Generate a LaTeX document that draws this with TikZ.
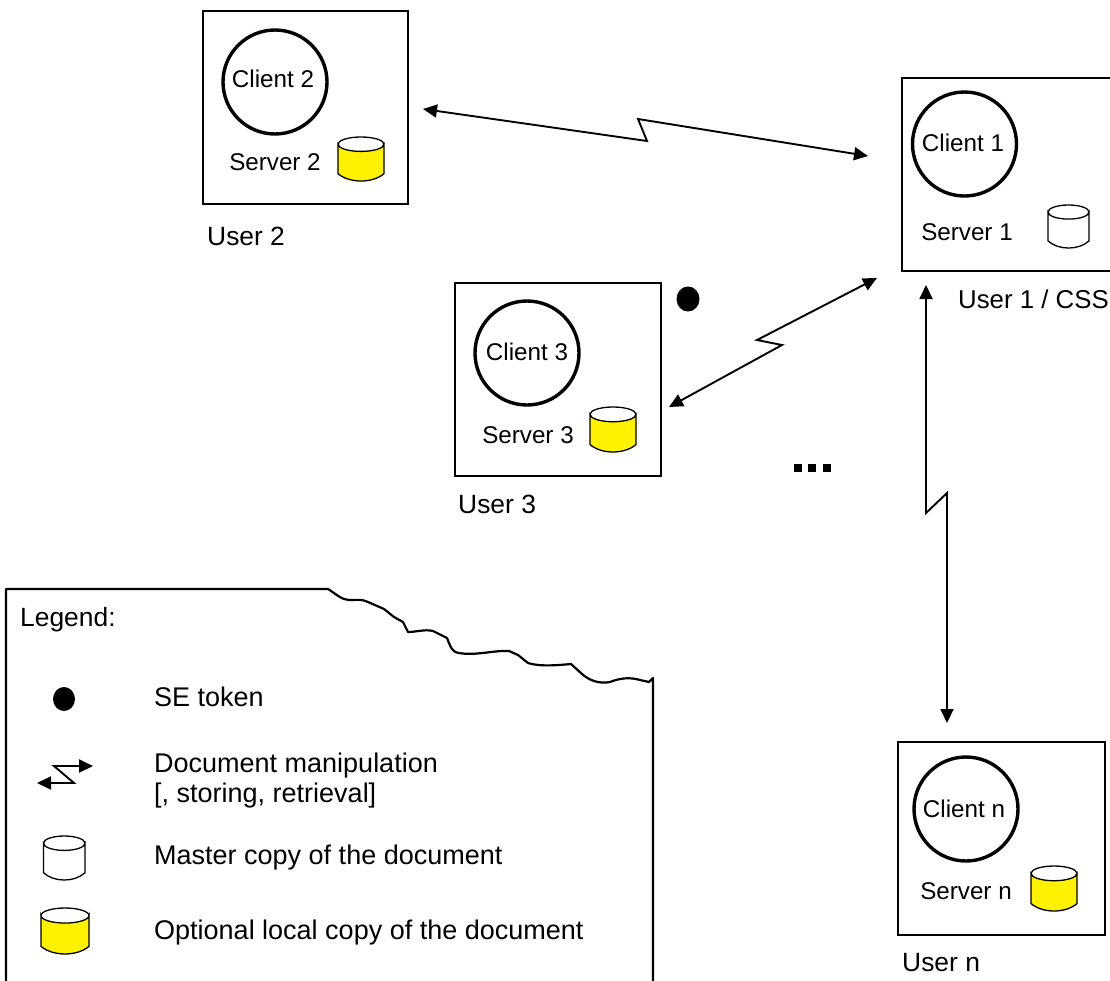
\documentclass[tikz,border=0pt]{standalone}
\usepackage{fontspec}
\setmainfont{Liberation Sans}
\usetikzlibrary{arrows.meta}
\tikzset{
  userbox/.style={draw=black,line width=2.4pt,rectangle,anchor=north west,inner sep=0pt,outer sep=0pt},
  clientc/.style={draw=black,line width=3.4pt,circle,inner sep=0pt,outer sep=0pt,minimum size=104pt},
  lbl/.style={inner sep=0pt,font=\fontsize{24.2pt}{30pt}\selectfont},
  userlbl/.style={inner sep=0pt,anchor=west,font=\fontsize{26.4pt}{30pt}\selectfont},
  leftlbl/.style={inner sep=0pt,anchor=base west,font=\fontsize{27pt}{30pt}\selectfont},
  link/.style={line width=1.9pt,line join=miter,{Triangle[length=14pt,width=13pt]}-{Triangle[length=14pt,width=13pt]}},
  cyledge/.style={draw=black,line width=1.3pt},
  dotsq/.style={fill=black,minimum size=8pt,inner sep=0pt,outer sep=0pt,rectangle,anchor=north west},
}
\newcommand{\mycyl}[5]{% x1 y1 x2 y2 fill
  \pgfmathsetmacro{\crx}{(#3-#1)/2}
  \pgfmathsetmacro{\cry}{(#4-#2)*0.16}
  \path[cyledge,fill=#5] (#1,#2+\cry) arc[start angle=180,end angle=0,x radius=\crx,y radius=\cry]
    -- (#3,#4-\cry*1.15) .. controls (#3-\crx*0.5,#4+\cry*0.2) and (#1+\crx*0.5,#4+\cry*0.2) .. (#1,#4-\cry*1.15) -- cycle;
  \path[cyledge] (#1,#2+\cry) arc[start angle=180,end angle=360,x radius=\crx,y radius=\cry];
}
\begin{document}
\begin{tikzpicture}[x=1pt,y=-1pt]
\useasboundingbox (0,0) rectangle (1110,980);
\fill[white] (0,0) rectangle (1110,980);

% legend frame
\draw[line width=2.2pt,line join=round] (6,981) -- (6,589) -- (328,589)
  .. controls (336,594) and (342,600) .. (349,600)
  .. controls (357,600) and (362,599) .. (368,602)
  -- (384,609) -- (394,617) -- (403,622) -- (408,632)
  .. controls (416,632) and (425,629) .. (433,631)
  -- (447,638) .. controls (450,645) and (451,652) .. (459,653)
  .. controls (475,656) and (495,650) .. (509,651)
  -- (518,655) -- (528,663)
  .. controls (540,667) and (560,665) .. (571,664)
  -- (582,674) .. controls (590,681) and (600,684) .. (610,682)
  .. controls (620,678) and (630,677) .. (640,680)
  -- (649,682) -- (653,678) -- (653,981);

% user 2
\node[userbox,minimum width=205pt,minimum height=193pt] (box2) at (203,11) {};
\node[clientc] (c2) at (275,82) {};
\node[lbl] (c2t) at (273,79) {Client 2};
\node[lbl] (s2t) at (275,162) {Server 2};
\mycyl{338}{137}{384}{182}{yellow}
\node[userlbl] (u2t) at (207,236) {User 2};

% user 1
\node[userbox,minimum width=215pt,minimum height=193pt] (box1) at (902,78) {};
\node[clientc] (c1) at (964.5,144) {};
\node[lbl] (c1t) at (963,143) {Client 1};
\node[lbl] (s1t) at (967,232) {Server 1};
\mycyl{1048}{205}{1089}{249}{white}
\node[userlbl,font=\fontsize{25.8pt}{30pt}\selectfont] (u1t) at (958,299) {User 1 / CSS};

% user 3
\node[userbox,minimum width=206pt,minimum height=193pt] (box3) at (455,283) {};
\node[clientc] (c3) at (527,353) {};
\node[lbl] (c3t) at (527,352) {Client 3};
\node[lbl] (s3t) at (528,435) {Server 3};
\mycyl{590}{407}{636}{453}{yellow}
\node[userlbl] (u3t) at (458,504) {User 3};
\fill (688,299) ellipse[x radius=11.5,y radius=12.5];

% user n
\node[userbox,minimum width=207pt,minimum height=193pt] (boxn) at (898,742) {};
\node[clientc] (cn) at (966,809) {};
\node[lbl] (cnt) at (964,809) {Client n};
\node[lbl] (snt) at (966,891) {Server n};
\mycyl{1031}{866}{1077}{912}{yellow}
\node[userlbl] (unt) at (902,963) {User n};

% connectors
\coordinate (a2) at (423,109);
\coordinate (z2a) at (647,141);
\coordinate (z2b) at (638,119);
\coordinate (a1) at (868,156);
\draw[link] (a2) -- (z2a) -- (z2b) -- (a1);

\coordinate (a3) at (669,407);
\coordinate (z3a) at (782,345);
\coordinate (z3b) at (757,340);
\coordinate (a1b) at (877,278);
\draw[link] (a3) -- (z3a) -- (z3b) -- (a1b);

\coordinate (a1c) at (926,285);
\coordinate (zna) at (926,513);
\coordinate (znb) at (947,493);
\coordinate (an) at (947,723);
\draw[link] (a1c) -- (zna) -- (znb) -- (an);

\node[dotsq] (d1) at (794,464) {};
\node[dotsq] (d2) at (808,464) {};
\node[dotsq] (d3) at (823,464) {};

% legend content
\node[userlbl,anchor=base west] (lt) at (20,626) {Legend:};
\fill (64,699) ellipse[x radius=11,y radius=12];
\node[leftlbl] (l1) at (154,706) {SE token};
\coordinate (la) at (93,766);
\coordinate (lb) at (54,766);
\coordinate (lc) at (74,783);
\coordinate (ld) at (37,783);
\draw[link] (la) -- (lb) -- (lc) -- (ld);
\node[leftlbl] (l2a) at (154,772) {Document manipulation};
\node[leftlbl] (l2b) at (154,802) {[, storing, retrieval]};
\mycyl{43.5}{836}{85}{881}{white}
\node[leftlbl] (l3) at (154,864) {Master copy of the document};
\mycyl{41}{908}{89}{955}{yellow}
\node[leftlbl] (l4) at (154,939) {Optional local copy of the document};
\end{tikzpicture}
\end{document}
